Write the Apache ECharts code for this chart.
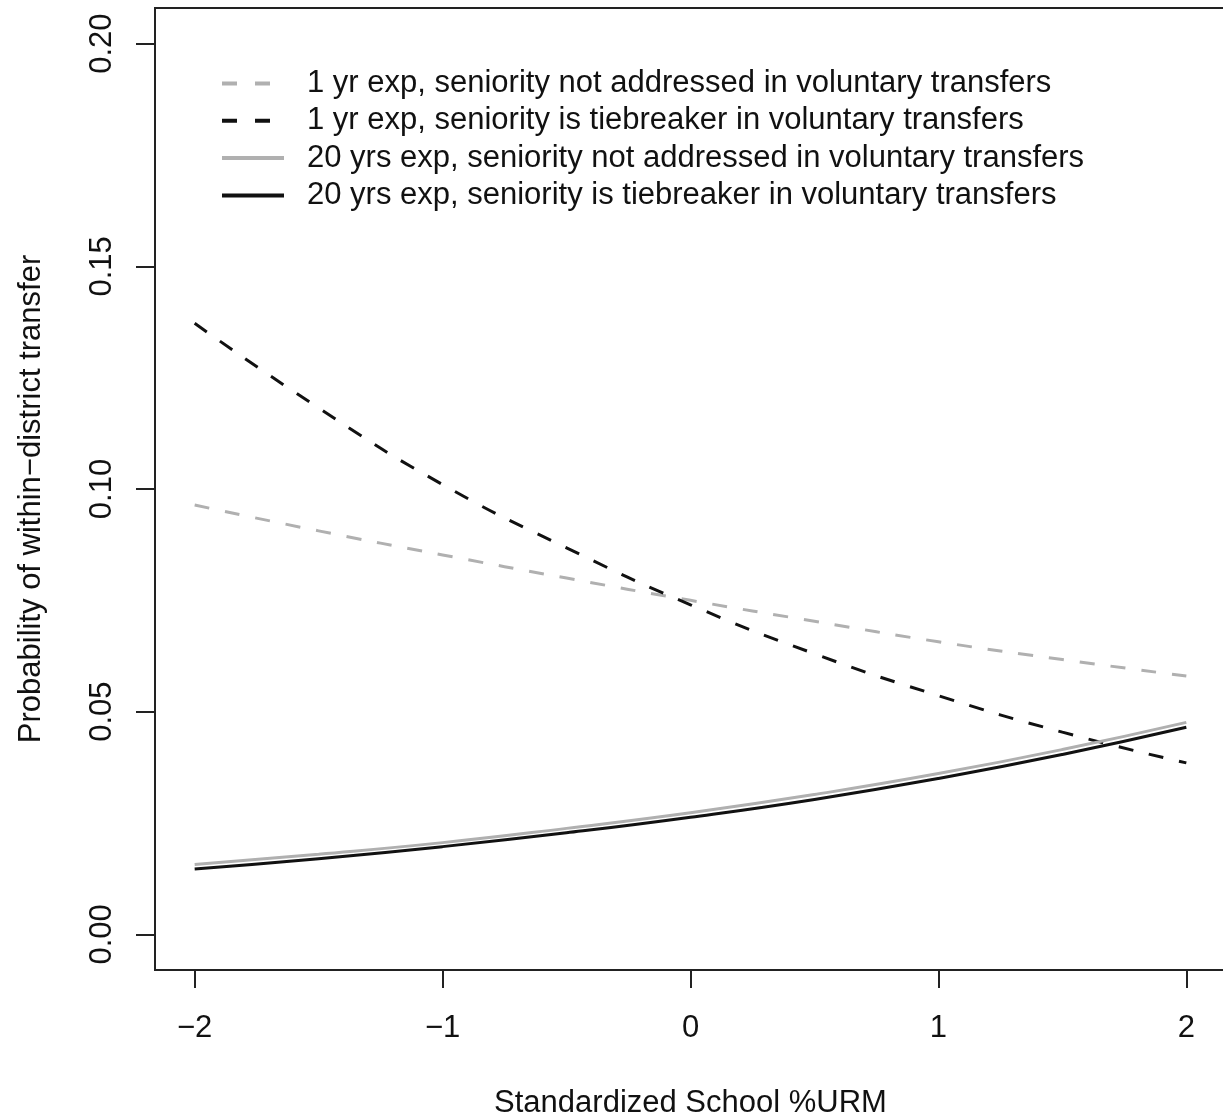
<!DOCTYPE html>
<html>
<head>
<meta charset="utf-8">
<script src="https://cdn.jsdelivr.net/npm/echarts@6/dist/echarts.min.js"></script>
<style>
html,body{margin:0;padding:0;background:#fff;}
#chart{width:1223px;height:1114px;}
</style>
</head>
<body>
<div id="chart"></div>
<script>
// Data
const xValues = [-2, -1.5, -1, -0.5, 0, 0.5, 1, 1.5, 2];
const yr1NotAddressed = [0.0964, 0.0906, 0.0852, 0.0800, 0.0750, 0.0703, 0.0657, 0.0617, 0.0580];
const yr1Tiebreaker   = [0.1372, 0.1182, 0.1010, 0.0868, 0.0740, 0.0630, 0.0536, 0.0454, 0.0385];
const yr20NotAddressed = [0.0157, 0.0180, 0.0206, 0.0238, 0.0273, 0.0314, 0.0361, 0.0415, 0.0476];
const yr20Tiebreaker   = [0.0147, 0.0170, 0.0197, 0.0228, 0.0263, 0.0303, 0.0350, 0.0404, 0.0465];
const seriesNames = [
  '1 yr exp, seniority not addressed in voluntary transfers',
  '1 yr exp, seniority is tiebreaker in voluntary transfers',
  '20 yrs exp, seniority not addressed in voluntary transfers',
  '20 yrs exp, seniority is tiebreaker in voluntary transfers'
];
const xTicks = [-2, -1, 0, 1, 2];
const yTicks = [0, 0.05, 0.10, 0.15, 0.20];
const xTitle = 'Standardized School %URM';
const yTitle = 'Probability of within\u2212district transfer';

const FONT = "'Liberation Sans', Arial, Helvetica, sans-serif";
const GRAY = '#b0b0b0';
const BLACK = '#111111';

function pairs(ys) { return xValues.map((x, i) => [x, ys[i]]); }

const chart = echarts.init(document.getElementById('chart'), null, {renderer: 'canvas'});
const hidden = {opacity: 0, color: 'transparent', borderWidth: 0};
const option = {
  backgroundColor: '#ffffff',
  animation: false,
  textStyle: {fontFamily: FONT},
  grid: {
    left: 155, right: -3, top: 8, bottom: 144,
    containLabel: false, outerBoundsMode: 'none',
    show: true, borderColor: '#222', borderWidth: 2, backgroundColor: 'transparent'
  },
  legend: {
    orient: 'vertical',
    left: 220, top: 68,
    padding: 0,
    itemWidth: 62, itemHeight: 14, itemGap: 6.3,
    textStyle: {fontFamily: FONT, fontSize: 31, color: '#111', lineHeight: 30, padding: [0, 0, 0, 18]},
    data: [
      {name: seriesNames[0], itemStyle: hidden, lineStyle: {type: [15, 18], width: 4, color: GRAY}},
      {name: seriesNames[1], itemStyle: hidden, lineStyle: {type: [15, 18], width: 4, color: BLACK}},
      {name: seriesNames[2], itemStyle: hidden, lineStyle: {type: 'solid', width: 4, color: GRAY}},
      {name: seriesNames[3], itemStyle: hidden, lineStyle: {type: 'solid', width: 4, color: BLACK}}
    ]
  },
  xAxis: {
    type: 'value', min: -2.16, max: 2.16,
    axisLine: {show: false, onZero: false},
    splitLine: {show: false},
    axisTick: {show: true, inside: false, length: 18, lineStyle: {color: '#222', width: 2}, customValues: xTicks},
    axisLabel: {
      customValues: xTicks, margin: 43, fontSize: 31, color: '#111', fontFamily: FONT,
      formatter: v => String(v).replace('-', '\u2212')
    },
    name: xTitle, nameLocation: 'middle', nameGap: 118,
    nameTextStyle: {fontSize: 31, color: '#111', fontFamily: FONT}
  },
  yAxis: {
    type: 'value', min: -0.008, max: 0.208,
    axisLine: {show: false, onZero: false},
    splitLine: {show: false},
    axisTick: {show: true, inside: false, length: 19, lineStyle: {color: '#222', width: 2}, customValues: yTicks},
    axisLabel: {
      customValues: yTicks, margin: 37, rotate: 90, fontSize: 31, color: '#111', fontFamily: FONT,
      formatter: v => v.toFixed(2)
    },
    name: yTitle, nameLocation: 'middle', nameGap: 108,
    nameTextStyle: {fontSize: 31, color: '#111', fontFamily: FONT, padding: [0, 20, 0, 0]}
  },
  series: [
    {name: seriesNames[0], type: 'line', data: pairs(yr1NotAddressed), smooth: true, symbol: 'none',
     lineStyle: {color: GRAY, width: 3, type: [15, 16]}, itemStyle: {color: GRAY}},
    {name: seriesNames[1], type: 'line', data: pairs(yr1Tiebreaker), smooth: true, symbol: 'none',
     lineStyle: {color: BLACK, width: 3, type: [15, 16]}, itemStyle: {color: BLACK}},
    {name: seriesNames[2], type: 'line', data: pairs(yr20NotAddressed), smooth: true, symbol: 'none',
     lineStyle: {color: GRAY, width: 3, type: 'solid'}, itemStyle: {color: GRAY}},
    {name: seriesNames[3], type: 'line', data: pairs(yr20Tiebreaker), smooth: true, symbol: 'none',
     lineStyle: {color: BLACK, width: 3, type: 'solid'}, itemStyle: {color: BLACK}}
  ]
};
chart.setOption(option);
</script>
</body>
</html>
